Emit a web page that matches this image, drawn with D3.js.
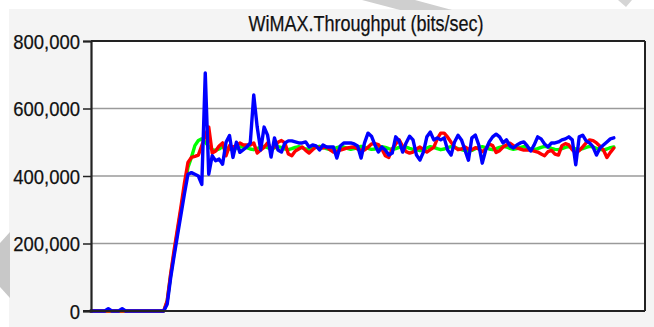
<!DOCTYPE html>
<html><head><meta charset="utf-8">
<script src="https://cdn.jsdelivr.net/npm/d3@7"></script>
<style>
html,body{margin:0;padding:0;background:#fff;}
svg{display:block;}
text{font-family:"Liberation Sans",Arial,sans-serif;fill:#111;}
</style></head>
<body>
<svg id="chart" width="654" height="327"></svg>
<script>
const chartTitle = "WiMAX.Throughput (bits/sec)";
const yTicks = [0, 200000, 400000, 600000, 800000];

const greenSeries = [0,0,0,0,0,0,0,0,0,0,0,0,0,0,0,0,0,0,0,0,0,0,
28000,105000,172000,237000,300000,365000,425000,455000,490000,505000,510000,500000,488000,478000,476000,480000,487000,484000,480000,478000,
482000,486000,488000,484000,480000,478000,482000,485000,488000,484000,480000,483000,487000,485000,480000,478000,481000,485000,487000,484000,
480000,478000,482000,486000,488000,485000,481000,478000,480000,484000,487000,486000,482000,479000,481000,485000,488000,486000,482000,479000,
480000,484000,487000,485000,481000,478000,481000,485000,488000,486000,482000,479000,478000,475000,478000,483000,487000,485000,481000,478000,
480000,484000,487000,485000,481000,478000,475000,473000,476000,481000,485000,487000,484000,480000,478000,481000,485000,488000,486000,482000,
479000,481000,485000,487000,484000,480000,478000,481000,485000,488000,486000,482000,479000,478000,481000,485000,487000,484000,480000,478000,
481000,485000,488000,486000,482000,479000,477000,480000,484000,486000];

const redSeries = [0,0,0,0,0,0,0,0,0,0,0,0,0,0,0,0,0,0,0,0,0,0,
30000,110000,180000,245000,310000,380000,440000,455000,458000,462000,490000,520000,545000,468000,474000,489000,498000,460000,490000,486000,
489000,498000,492000,492000,492000,498000,468000,477000,485000,498000,480000,486000,500000,505000,498000,465000,460000,474000,480000,486000,
476000,468000,478000,486000,484000,483000,486000,478000,471000,474000,477000,480000,483000,485000,486000,480000,477000,477000,485000,495000,
496000,493000,480000,460000,455000,480000,495000,507000,488000,472000,468000,471000,480000,486000,478000,471000,478000,485000,510000,527000,
527000,515000,500000,486000,478000,480000,486000,480000,478000,484000,480000,472000,480000,495000,490000,470000,475000,486000,492000,497000,
490000,483000,480000,477000,477000,477000,474000,471000,465000,460000,472000,476000,465000,462000,490000,496000,492000,478000,468000,475000,
486000,498000,507000,505000,498000,488000,477000,455000,470000,483000];

const blueSeries = [0,0,0,0,0,7000,0,0,0,7000,0,0,0,0,0,0,0,0,0,0,0,0,
20000,98000,163000,225000,287000,348000,405000,410000,405000,400000,375000,705000,405000,460000,445000,450000,435000,500000,520000,455000,
500000,470000,478000,486000,498000,640000,545000,477000,545000,521000,456000,513000,477000,471000,498000,504000,504000,501000,498000,498000,
501000,486000,492000,489000,477000,492000,486000,486000,486000,453000,489000,498000,498000,498000,495000,489000,453000,498000,527000,518000,
492000,471000,486000,477000,462000,468000,516000,504000,471000,498000,518000,507000,462000,447000,471000,516000,530000,507000,513000,507000,
513000,477000,462000,501000,521000,507000,477000,447000,513000,521000,492000,438000,477000,501000,516000,524000,516000,498000,507000,489000,
483000,492000,498000,501000,489000,474000,492000,516000,510000,495000,486000,498000,498000,501000,507000,510000,516000,507000,433000,516000,
521000,504000,498000,486000,462000,483000,492000,501000,510000,513000];

const seriesList = [
  {name: "green", values: greenSeries, color: "#00ff00"},
  {name: "red", values: redSeries, color: "#ff0000"},
  {name: "blue", values: blueSeries, color: "#0000ff"}
];

const svg = d3.select("#chart");
const W = 654, H = 327;
const plot = {left: 91, right: 645, top: 41, bottom: 311};

// background panel
svg.append("rect").attr("x", 0).attr("y", 0).attr("width", W).attr("height", H).attr("fill", "#ffffff");
svg.append("rect").attr("x", 9).attr("y", 9).attr("width", W - 9).attr("height", H - 9).attr("fill", "#f4f4f4");
// faint grey marks of the source picture
svg.append("polygon").attr("points", "362,0 415,0 452,10 400,10").attr("fill", "#cfcfcf");
svg.append("polygon").attr("points", "618,0 632,0 626,7").attr("fill", "#d5d5d5");
svg.append("polygon").attr("points", "10,232 10,298 0,287 0,243").attr("fill", "#c8c8c8");

const x = d3.scaleLinear().domain([0, 160]).range([plot.left, plot.right]);
const y = d3.scaleLinear().domain([0, 800000]).range([plot.bottom, plot.top]);

// plot area
svg.append("rect").attr("x", plot.left).attr("y", plot.top)
  .attr("width", plot.right - plot.left).attr("height", plot.bottom - plot.top)
  .attr("fill", "#ffffff");

// grid lines
svg.append("g").selectAll("line").data(yTicks.filter(d => d > 0 && d < 800000)).join("line")
  .attr("x1", plot.left).attr("x2", plot.right)
  .attr("y1", d => y(d)).attr("y2", d => y(d))
  .attr("stroke", "#9a9a9a").attr("stroke-width", 1.5);

// series lines
const line = d3.line().x((d, i) => x(i)).y(d => y(d)).curve(d3.curveLinear);
svg.append("g").selectAll("path").data(seriesList).join("path")
  .attr("d", s => line(s.values))
  .attr("fill", "none")
  .attr("stroke", s => s.color)
  .attr("stroke-width", 3.4)
  .attr("stroke-linejoin", "round")
  .attr("stroke-linecap", "round");

// frame: top and right
svg.append("line").attr("x1", plot.left).attr("x2", plot.right).attr("y1", plot.top).attr("y2", plot.top)
  .attr("stroke", "#222").attr("stroke-width", 2);
svg.append("line").attr("x1", plot.right).attr("x2", plot.right).attr("y1", plot.top).attr("y2", plot.bottom)
  .attr("stroke", "#222").attr("stroke-width", 2);

// bottom baseline
svg.append("line").attr("x1", 83).attr("x2", plot.right).attr("y1", plot.bottom).attr("y2", plot.bottom)
  .attr("stroke", "#222").attr("stroke-width", 2);

// y axis
const yAxis = d3.axisLeft(y).tickValues(yTicks).tickSize(8).tickPadding(3).tickFormat(d3.format(","));
const gy = svg.append("g").attr("transform", `translate(${plot.left},0)`).call(yAxis);
gy.select(".domain").attr("stroke", "#222").attr("stroke-width", 2.2);
gy.selectAll(".tick line").attr("stroke", "#222").attr("stroke-width", 1.5);
gy.selectAll(".tick text")
  .attr("font-family", "'Liberation Sans', Arial, sans-serif")
  .attr("font-size", 21)
  .attr("fill", "#111")
  .attr("stroke", "#111").attr("stroke-width", 0.25)
  .attr("dy", "0.35em")
  .each(function() {
    const len = this.getComputedTextLength();
    d3.select(this).attr("textLength", len * 0.88).attr("lengthAdjust", "spacingAndGlyphs");
  });

// title
svg.append("text")
  .attr("x", 366).attr("y", 31)
  .attr("text-anchor", "middle")
  .attr("font-size", 22)
  .attr("stroke", "#111").attr("stroke-width", 0.25)
  .attr("textLength", 235).attr("lengthAdjust", "spacingAndGlyphs")
  .text(chartTitle);
</script>
</body></html>
